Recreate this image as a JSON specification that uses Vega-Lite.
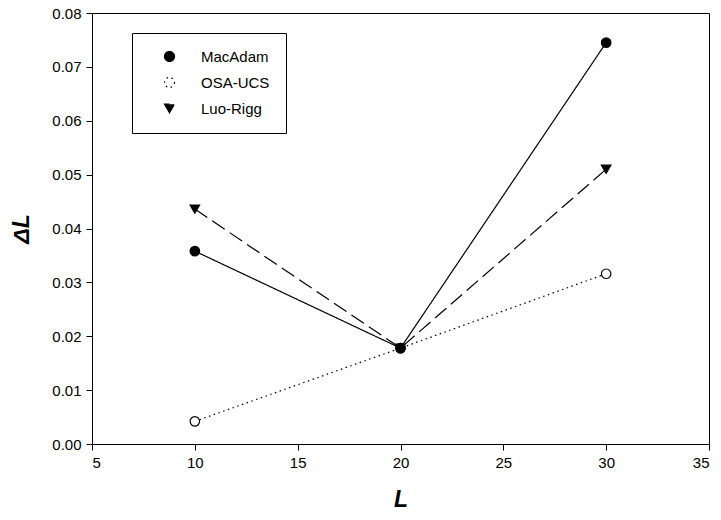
{
  "$schema": "https://vega.github.io/schema/vega-lite/v6.json",
  "width": 617,
  "height": 431,
  "autosize": "none",
  "padding": {"left": 92, "top": 13, "right": 12, "bottom": 76},
  "background": "white",
  "config": {
    "font": "Liberation Sans",
    "view": {"stroke": "black", "strokeWidth": 1},
    "axis": {
      "grid": false,
      "domainColor": "black",
      "tickColor": "black",
      "tickSize": 6,
      "labelColor": "black",
      "labelFont": "Liberation Sans",
      "labelFontSize": 15,
      "titleFont": "Liberation Sans",
      "titleFontSize": 23,
      "titleFontWeight": "bold",
      "titleFontStyle": "italic",
      "titleColor": "black"
    }
  },
  "data": {
    "values": [
      {"series": "Luo-Rigg", "L": 10, "dL": 0.0436},
      {"series": "Luo-Rigg", "L": 20, "dL": 0.0178},
      {"series": "Luo-Rigg", "L": 30, "dL": 0.0510},
      {"series": "OSA-UCS", "L": 10, "dL": 0.0042},
      {"series": "OSA-UCS", "L": 20, "dL": 0.0178},
      {"series": "OSA-UCS", "L": 30, "dL": 0.0316},
      {"series": "MacAdam", "L": 10, "dL": 0.0358},
      {"series": "MacAdam", "L": 20, "dL": 0.0178},
      {"series": "MacAdam", "L": 30, "dL": 0.0745}
    ]
  },
  "encoding": {
    "x": {
      "field": "L", "type": "quantitative",
      "scale": {"domain": [5, 35], "nice": false, "zero": false},
      "axis": {"values": [5, 10, 15, 20, 25, 30, 35], "title": "L", "titlePadding": 18, "labelPadding": 5}
    },
    "y": {
      "field": "dL", "type": "quantitative",
      "scale": {"domain": [0, 0.08], "nice": false},
      "axis": {"values": [0, 0.01, 0.02, 0.03, 0.04, 0.05, 0.06, 0.07, 0.08], "format": ".2f", "title": "ΔL", "titlePadding": 18, "labelPadding": 5}
    }
  },
  "layer": [
    {
      "mark": {"type": "line", "color": "black", "strokeWidth": 1.2},
      "encoding": {
        "detail": {"field": "series"},
        "strokeDash": {
          "field": "series", "type": "nominal",
          "scale": {"domain": ["MacAdam", "OSA-UCS", "Luo-Rigg"], "range": [[1, 0], [1.5, 3.5], [15, 6]]}
        }
      }
    },
    {
      "mark": {"type": "point", "filled": false, "stroke": "black", "strokeWidth": 1.2, "size": 90, "opacity": 1},
      "encoding": {
        "shape": {
          "field": "series", "type": "nominal",
          "scale": {"domain": ["MacAdam", "OSA-UCS", "Luo-Rigg"], "range": ["circle", "circle", "triangle-down"]},
          "legend": {
            "title": null,
            "orient": "none",
            "legendX": 40,
            "legendY": 20,
            "padding": 16,
            "strokeColor": "black",
            "fillColor": "white",
            "cornerRadius": 0,
            "symbolSize": 100,
            "symbolOffset": 14,
            "symbolStrokeColor": "black",
            "symbolStrokeWidth": 1.2,
            "labelOffset": 24,
            "labelFontSize": 15,
            "labelColor": "black",
            "labelFont": "Liberation Sans",
            "rowPadding": 10
          }
        },
        "fill": {
          "field": "series", "type": "nominal",
          "scale": {"domain": ["MacAdam", "OSA-UCS", "Luo-Rigg"], "range": ["black", "white", "black"]}
        }
      }
    }
  ]
}
